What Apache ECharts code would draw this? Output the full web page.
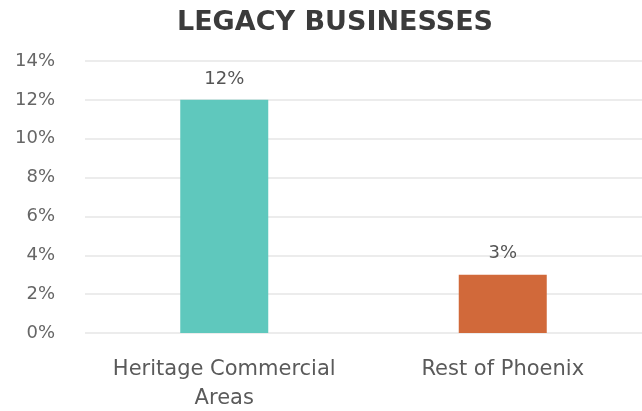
<!DOCTYPE html>
<html>
<head>
<meta charset="utf-8">
<script src="https://cdn.jsdelivr.net/npm/echarts@6/dist/echarts.min.js"></script>
<style>
  html, body { margin: 0; padding: 0; background: #ffffff; }
  #chart { width: 642px; height: 411px; }
</style>
</head>
<body>
<div id="chart"></div>
<script>
// Share of legacy businesses by area
const categories = ['Heritage Commercial\nAreas', 'Rest of Phoenix'];
const shares = [12, 3];
const barColors = ['#5fc8bd', '#d1693a'];

const labelFont = 'DejaVu Sans';

const chart = echarts.init(document.getElementById('chart'));

chart.setOption({
  backgroundColor: '#ffffff',
  animation: false,
  title: {
    text: 'LEGACY BUSINESSES',
    left: 330,
    textAlign: 'center',
    top: 4,
    textStyle: {
      fontFamily: 'DejaVu Sans',
      fontWeight: 'bold',
      fontSize: 27,
      color: '#3b3b3b'
    }
  },
  grid: { left: 85, right: 0, top: 61, bottom: 78, outerBoundsMode: 'none', containLabel: false },
  xAxis: {
    type: 'category',
    data: categories,
    axisLine: { show: false },
    axisTick: { show: false },
    axisLabel: {
      interval: 0,
      hideOverlap: false,
      margin: 22,
      fontFamily: labelFont,
      fontSize: 21,
      lineHeight: 29,
      color: '#5a5a5a'
    }
  },
  yAxis: {
    type: 'value',
    min: 0,
    max: 14,
    interval: 2,
    axisLine: { show: false },
    axisTick: { show: false },
    splitLine: { lineStyle: { color: '#ececec', width: 2 } },
    axisLabel: {
      formatter: '{value}%',
      margin: 30,
      fontFamily: labelFont,
      fontSize: 18,
      color: '#666666'
    }
  },
  series: [{
    type: 'bar',
    barWidth: 88,
    data: shares.map((v, i) => ({ value: v, itemStyle: { color: barColors[i] } })),
    label: {
      show: true,
      position: 'top',
      distance: 12,
      formatter: '{c}%',
      fontFamily: labelFont,
      fontSize: 18,
      color: '#555555'
    }
  }]
});
</script>
</body>
</html>
